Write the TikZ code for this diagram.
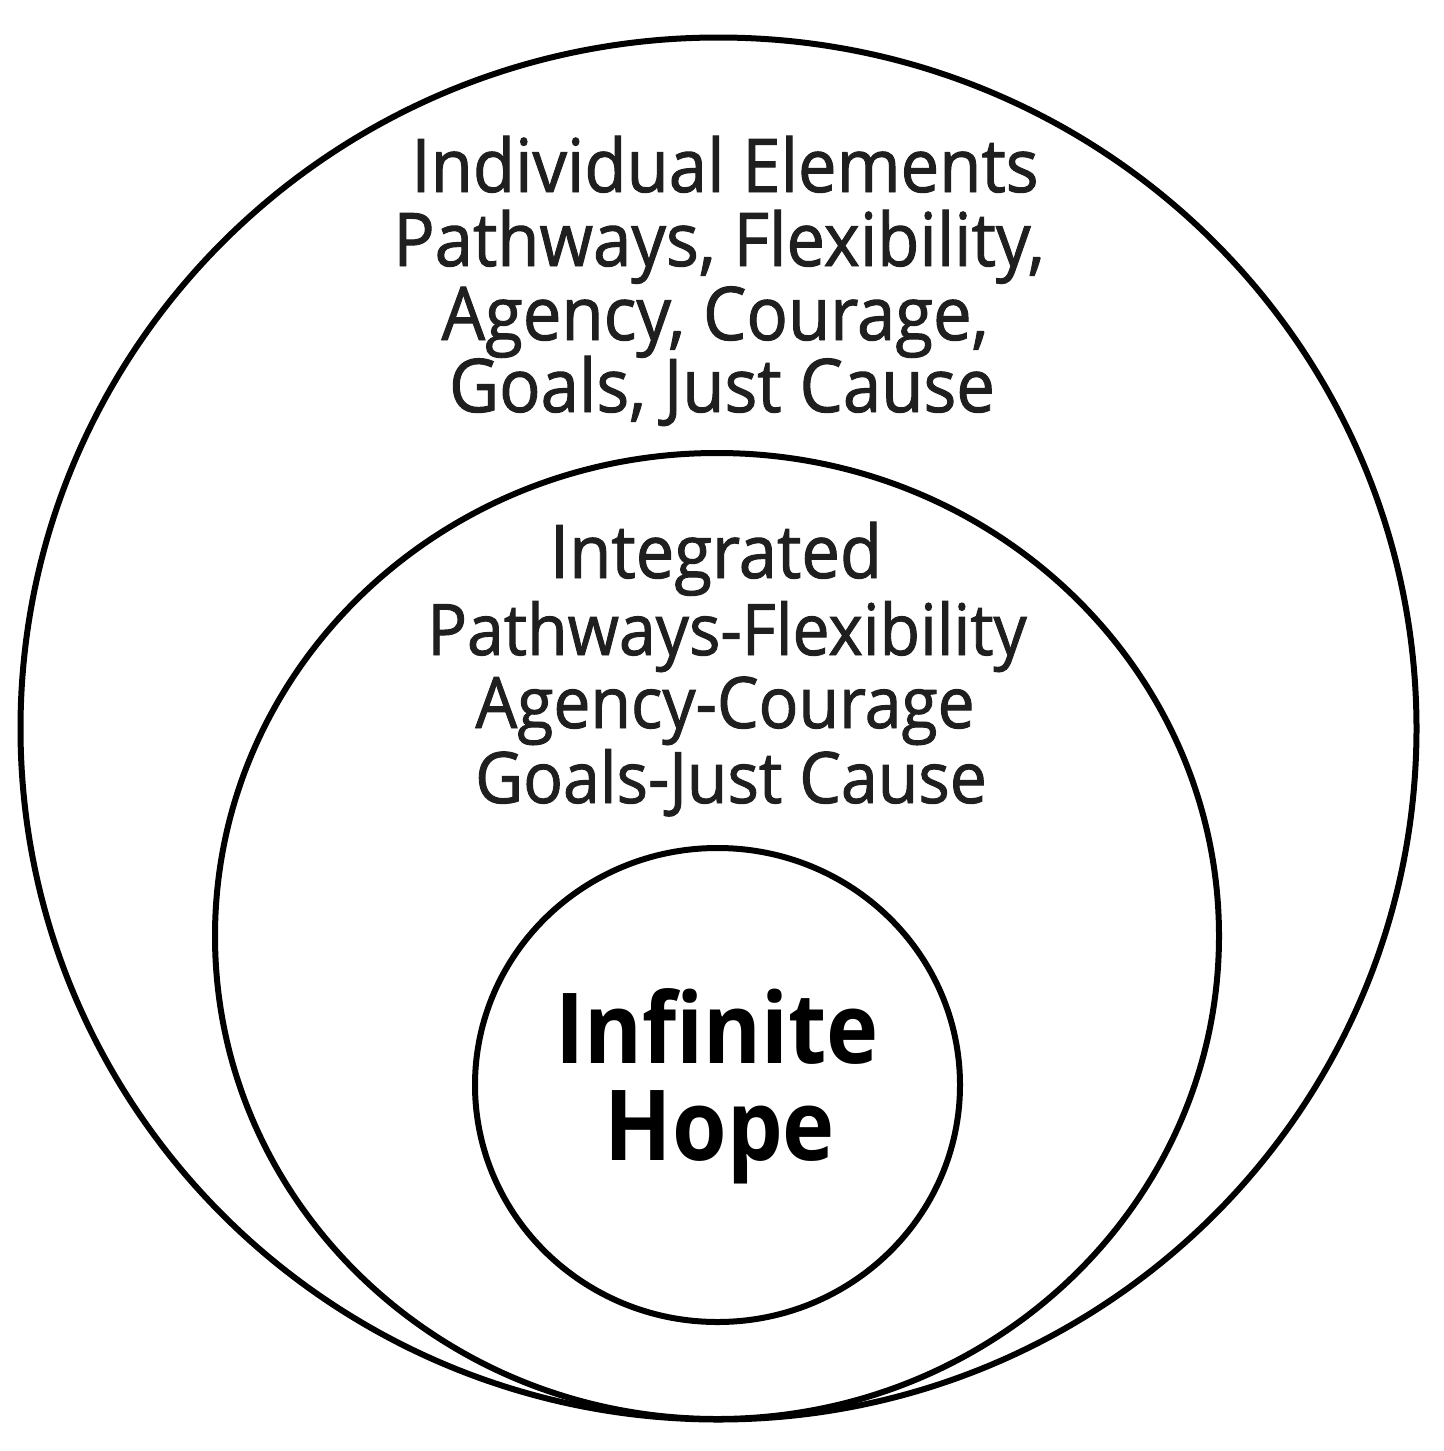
\documentclass[tikz,border=0pt]{standalone}
\usepackage{fontspec}
\setmainfont{Open Sans}[FakeStretch=0.9]
\newfontfamily\labfont{Open Sans}[FakeStretch=0.93,FakeBold=1.3]
\usetikzlibrary{shapes.geometric}
\begin{document}
\begin{tikzpicture}[x=0.5pt,y=-0.5pt,
  ring/.style={ellipse,draw=black,line width=3pt,inner sep=0pt,outer sep=0pt},
  txt/.style={anchor=base,inner sep=0pt,text=black!88,font=\labfont\fontsize{37}{42}\selectfont},
  txtsm/.style={anchor=base,inner sep=0pt,text=black!88,font=\labfont\fontsize{35.5}{42}\selectfont},
  big/.style={anchor=base,inner sep=0pt,text=black,font=\fontsize{49}{56}\selectfont\bfseries}]
\useasboundingbox[fill=white] (0,0) rectangle (1444,1451);
\node[ring,minimum width=698pt,minimum height=691pt] (outer) at (718.5,728.5) {};
\node[ring,minimum width=502pt,minimum height=483pt] (middle) at (717,936) {};
\node[ring,minimum width=242.5pt,minimum height=237pt] (inner) at (717.5,1085) {};
\node[txt] (t1) at (725,192) {Individual Elements};
\node[txt] (t2) at (719,266) {Pathways, Flexibility,};
\node[txt] (t3) at (715,340) {Agency, Courage,};
\node[txt] (t4) at (722,412) {Goals, Just Cause};
\node[txt] (m1) at (716,578) {Integrated};
\node[txtsm] (m2) at (727,655) {Pathways-Flexibility};
\node[txtsm] (m3) at (725,728) {Agency-Courage};
\node[txtsm] (m4) at (731,803) {Goals-Just Cause};
\node[big] (h1) at (717,1063) {Infinite};
\node[big] (h2) at (720,1160) {Hope};
\end{tikzpicture}
\end{document}
